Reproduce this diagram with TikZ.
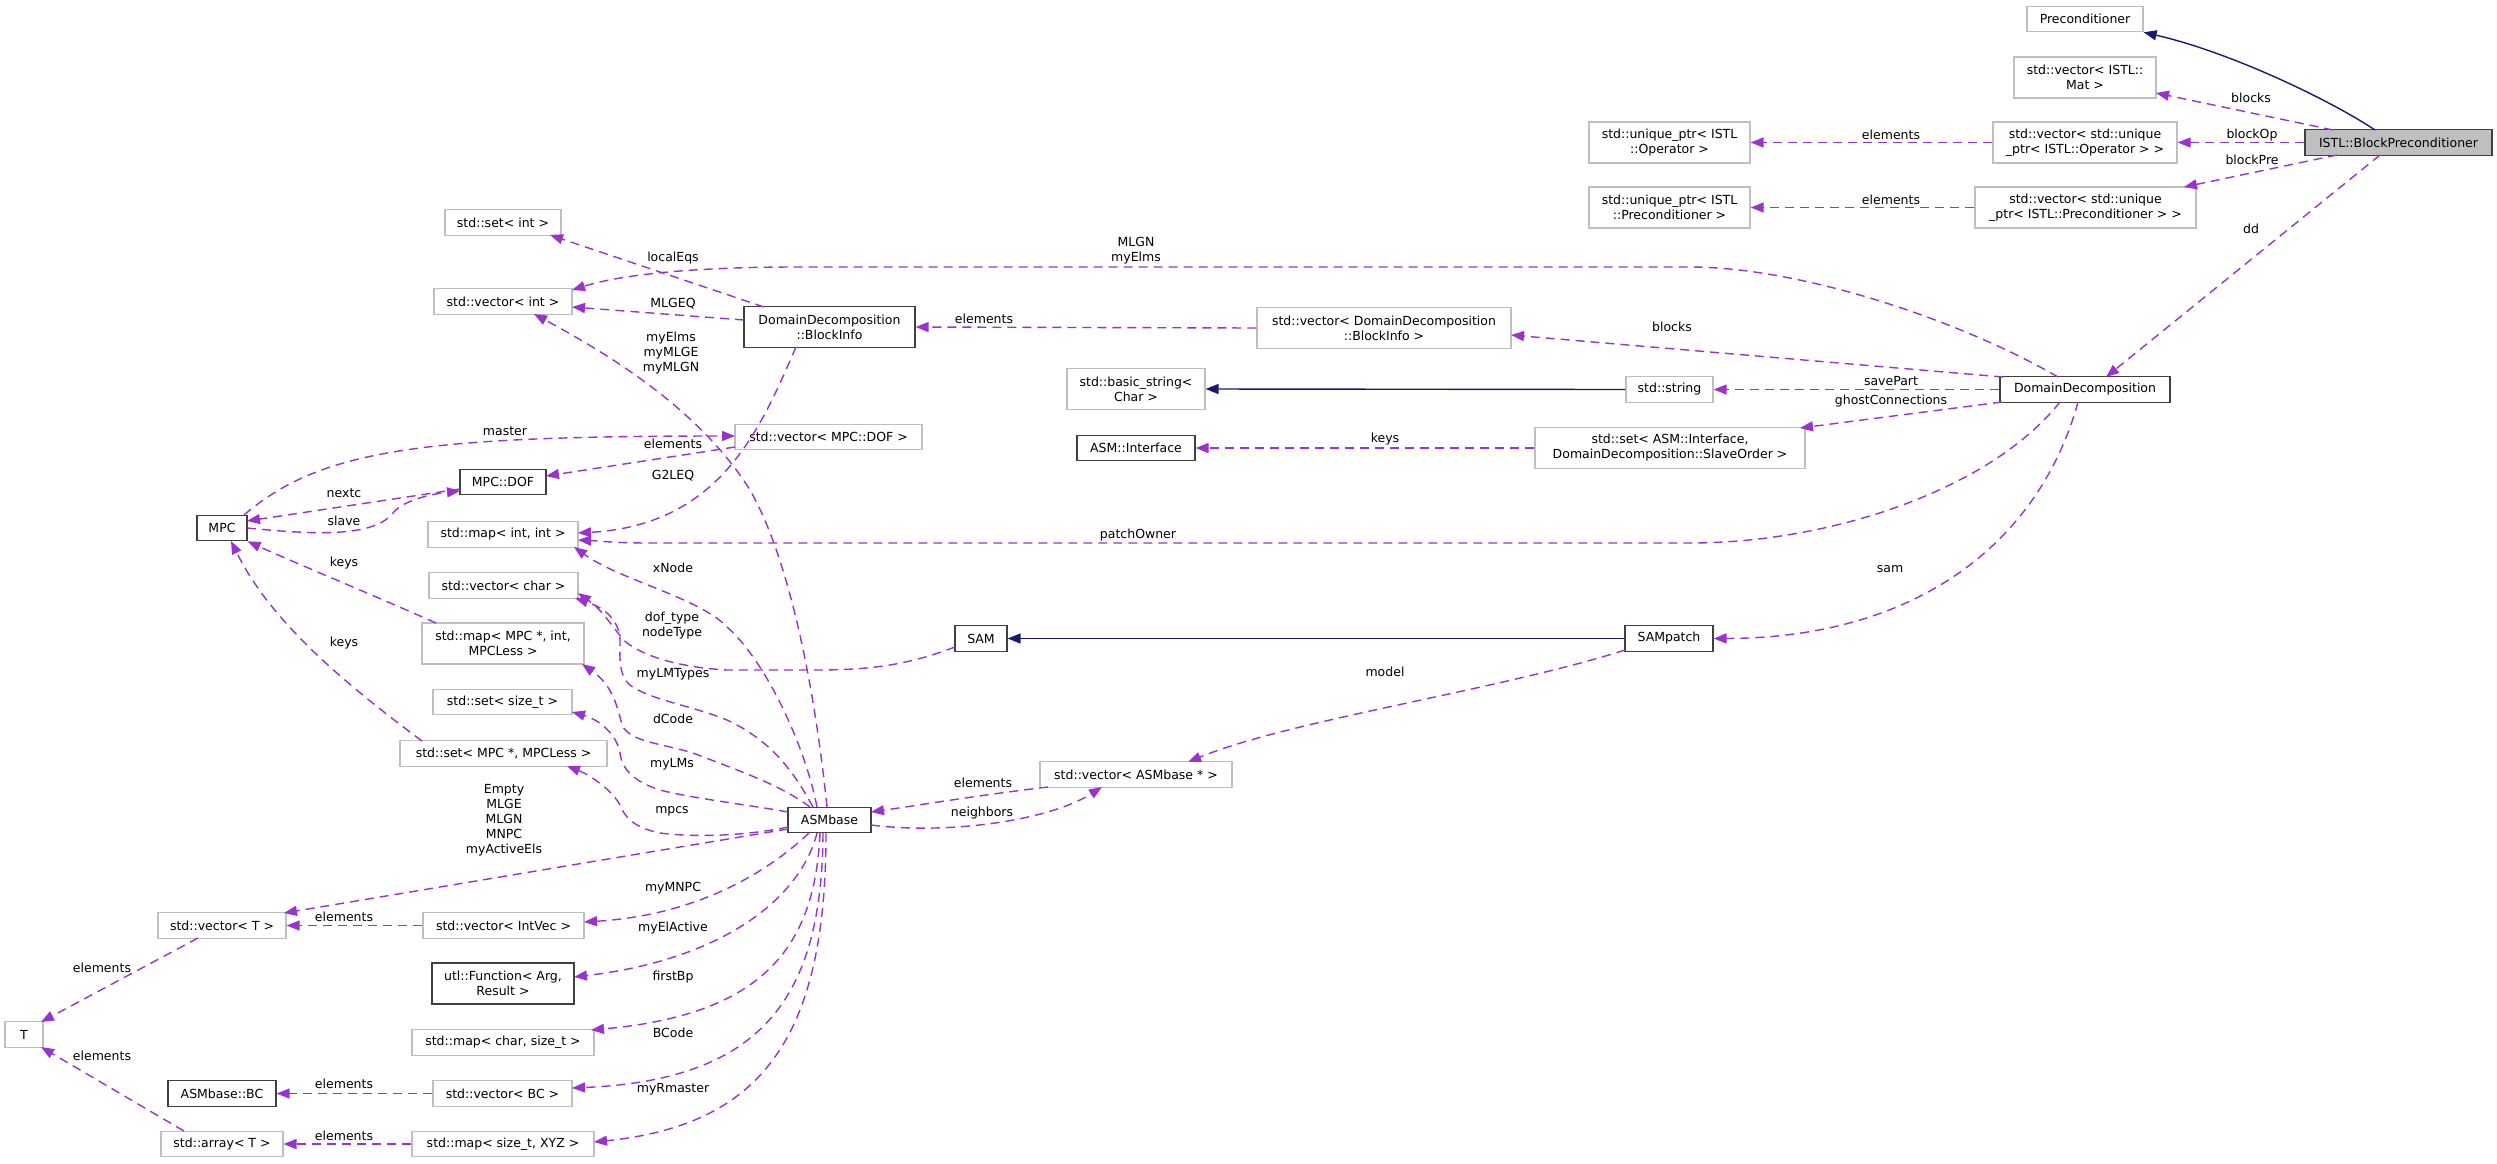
\documentclass[tikz,border=0pt]{standalone}
\usepackage{fontspec}
\setmainfont{DejaVu Sans}
\usetikzlibrary{arrows.meta,calc}
\definecolor{usecol}{HTML}{9A32CD}
\definecolor{inhcol}{HTML}{191970}
\definecolor{boxgrey}{HTML}{BFBFBF}
\definecolor{boxdark}{HTML}{404040}
\definecolor{hilite}{HTML}{BFBFBF}
\tikzset{
  box/.style={draw=boxgrey,line width=1.2pt,fill=white,inner sep=0pt,align=center},
  dbox/.style={box,draw=boxdark},
  hbox/.style={box,draw=boxdark,fill=hilite},
  one/.style={minimum height=25.5pt},
  two/.style={minimum height=41pt},
  uses/.style={draw=usecol,line width=1.4pt,dash pattern=on 9pt off 6pt,-{Triangle[length=13pt,width=10pt,fill=usecol]}},
  inh/.style={draw=inhcol,line width=1.4pt,-{Triangle[length=13pt,width=10pt,fill=inhcol]}},
  lbl/.style={inner sep=0pt,align=center}
}
\begin{document}
\begin{tikzpicture}[x=1pt,y=-1pt,font=\fontsize{12.5}{15}\selectfont]
\useasboundingbox[fill=white] (0,0) rectangle (2497,1163);
% nodes
\node[box,one,minimum width=116pt] (prec) at (2085,19) {Preconditioner};
\node[box,two,minimum width=142pt] (vmat) at (2085,77.5) {std::vector< ISTL::\\Mat >};
\node[hbox,one,minimum width=187pt] (istl) at (2398.5,142.5) {ISTL::BlockPreconditioner};
\node[box,two,minimum width=161pt] (uop) at (1669.5,142.5) {std::unique\_ptr< ISTL\\::Operator >};
\node[box,two,minimum width=184pt] (vuop) at (2085,142.5) {std::vector< std::unique\\\_ptr< ISTL::Operator > >};
\node[box,two,minimum width=161pt] (upre) at (1669.5,207.5) {std::unique\_ptr< ISTL\\::Preconditioner >};
\node[box,two,minimum width=221pt] (vupre) at (2085.5,207.5) {std::vector< std::unique\\\_ptr< ISTL::Preconditioner > >};
\node[box,one,minimum width=116pt] (setint) at (503,222.5) {std::set< int >};
\node[box,one,minimum width=138pt] (vint) at (503,301.5) {std::vector< int >};
\node[dbox,two,minimum width=171pt] (bi) at (829.5,327) {DomainDecomposition\\::BlockInfo};
\node[box,two,minimum width=254pt] (vbi) at (1384,328) {std::vector< DomainDecomposition\\::BlockInfo >};
\node[box,two,minimum width=138pt] (bstr) at (1136,389) {std::basic\_string<\\Char >};
\node[box,one,minimum width=87pt] (str) at (1669.5,389.5) {std::string};
\node[dbox,one,minimum width=170pt] (dd) at (2085,389.5) {DomainDecomposition};
\node[dbox,one,minimum width=118pt] (asmi) at (1136,448) {ASM::Interface};
\node[box,two,minimum width=270pt] (setasmi) at (1670,448) {std::set< ASM::Interface,\\DomainDecomposition::SlaveOrder >};
\node[box,one,minimum width=187pt] (vdof) at (828.5,437) {std::vector< MPC::DOF >};
\node[dbox,one,minimum width=86pt] (dof) at (503,482) {MPC::DOF};
\node[dbox,one,minimum width=50pt] (mpc) at (222,528) {MPC};
\node[box,one,minimum width=150pt] (mapii) at (503,534.5) {std::map< int, int >};
\node[box,one,minimum width=149pt] (vchar) at (503.5,585.5) {std::vector< char >};
\node[box,two,minimum width=162pt] (mapmpc) at (503,643.5) {std::map< MPC *, int,\\MPCLess >};
\node[box,one,minimum width=139pt] (setsz) at (502.5,702) {std::set< size\_t >};
\node[box,one,minimum width=207pt] (setmpc) at (503.5,753.5) {std::set< MPC *, MPCLess >};
\node[dbox,one,minimum width=52pt] (sam) at (981,638.5) {SAM};
\node[dbox,one,minimum width=88pt] (sampatch) at (1669,638.5) {SAMpatch};
\node[box,one,minimum width=192pt] (vasm) at (1136,774.5) {std::vector< ASMbase * >};
\node[dbox,one,minimum width=83pt] (asm) at (829.5,820) {ASMbase};
\node[box,one,minimum width=128pt] (vT) at (222,925.5) {std::vector< T >};
\node[box,one,minimum width=161pt] (vintvec) at (503.5,925.5) {std::vector< IntVec >};
\node[dbox,two,minimum width=142pt] (func) at (503,983.5) {utl::Function< Arg,\\Result >};
\node[box,one,minimum width=38pt] (T) at (24,1034.5) {T};
\node[box,one,minimum width=182pt] (mapcs) at (503,1042.5) {std::map< char, size\_t >};
\node[dbox,one,minimum width=108pt] (bc) at (222,1093.5) {ASMbase::BC};
\node[box,one,minimum width=139pt] (vbc) at (502.5,1093.5) {std::vector< BC >};
\node[box,one,minimum width=122pt] (arrT) at (222,1144) {std::array< T >};
\node[box,one,minimum width=182pt] (mapxyz) at (503,1144) {std::map< size\_t, XYZ >};
% edges
\draw[inh] ($(istl)+(-23.5,-12.5)$) .. controls (2330,100) and (2230,52) .. (prec.south east);
\draw[uses] ($(istl)+(-65.5,-12.5)$) -- ($(vmat)+(71,15.5)$);
\draw[uses] (istl.west) -- (vuop.east);
\draw[uses] ($(istl)+(-61.5,12.5)$) -- ($(vupre)+(98.5,-20.5)$);
\draw[uses] (vuop.west) -- (uop.east);
\draw[uses] (vupre.west) -- (upre.east);
\draw[uses] ($(istl)+(-18.5,12.5)$) -- ($(dd)+(21,-12.5)$);
\draw[uses] ($(dd)+(-27,-12.5)$) .. controls (1960,320) and (1800,267) .. (1690,267) -- (796,267) .. controls (690,267) and (620,275) .. ($(vint)+(69,-11.5)$);
\draw[uses] ($(bi)+(-65.5,-20)$) -- ($(setint)+(47,12.5)$);
\draw[uses] ($(bi)+(-85.5,-7)$) -- ($(vint)+(69,5.5)$);
\draw[uses] (vbi.west) -- (bi.east);
\draw[uses] ($(asm)+(-2.5,-13)$) .. controls (815,690) and (790,560) .. (750,490) .. controls (700,410) and (610,355) .. ($(vint)+(31,12.5)$);
\draw[uses] ($(bi)+(-33.5,20)$) .. controls (760,430) and (720,525) .. ($(mapii)+(75,-1.5)$);
\draw[uses] ($(vdof)+(-93.5,10)$) -- ($(dof)+(43,-6)$);
\draw[uses] ($(mpc)+(22,-13)$) .. controls (320,450) and (420,436) .. ($(vdof)+(-93.5,-1)$);
\draw[uses] ($(dof)+(-43,7)$) -- ($(mpc)+(25,-7)$);
\draw[uses] ($(mpc)+(25,0)$) .. controls (300,533) and (372,540) .. (393,513) .. controls (405,498) and (440,493) .. ($(dof)+(-43,9)$);
\draw[uses] ($(mapmpc)+(-67,-20.5)$) .. controls (380,598) and (300,565) .. (mpc.south east);
\draw[uses] ($(setmpc)+(-81.5,-12.5)$) .. controls (340,680) and (270,620) .. ($(mpc)+(9,13)$);
\draw[uses] ($(dd)+(-25,12.5)$) .. controls (1990,490) and (1830,543) .. (1690,543) -- (650,543) .. controls (615,543) and (600,541) .. ($(mapii)+(75,5.5)$);
\draw[uses] ($(asm)+(-12.5,-13)$) .. controls (805,745) and (765,660) .. (727,627) .. controls (700,598) and (620,580) .. ($(mapii)+(71,12.5)$);
\draw[uses] ($(sam)+(-26,8.5)$) .. controls (900,668) and (860,670) .. (810,670) -- (727,670) .. controls (690,668) and (650,660) .. (627,643) .. controls (615,632) and (605,612) .. ($(vchar)+(74.5,7.5)$);
\draw[uses] ($(asm)+(-16.5,-13)$) .. controls (793,770) and (770,740) .. (727,720) .. controls (690,705) and (650,700) .. (630,685) .. controls (618,675) and (620,655) .. (620,640) .. controls (619,620) and (605,608) .. ($(vchar)+(71.5,12.5)$);
\draw[uses] ($(asm)+(-19.5,-13)$) .. controls (780,785) and (745,773) .. (693,753) .. controls (660,743) and (630,742) .. (622,725) .. controls (617,705) and (612,685) .. ($(mapmpc)+(79,20.5)$);
\draw[uses] ($(asm)+(-41.5,-8)$) .. controls (750,805) and (690,798) .. (660,790) .. controls (635,782) and (622,770) .. (620,753) .. controls (617,735) and (600,720) .. ($(setsz)+(69.5,10)$);
\draw[uses] ($(asm)+(-41.5,7)$) .. controls (750,835) and (700,838) .. (660,833) .. controls (635,828) and (625,818) .. (620,805) .. controls (612,790) and (590,775) .. ($(setmpc)+(63.5,12.5)$);
\draw[uses] ($(asm)+(-41.5,9)$) -- ($(vT)+(62,-12.5)$);
\draw[uses] ($(asm)+(-20.5,13)$) .. controls (770,870) and (700,915) .. ($(vintvec)+(80.5,-3.5)$);
\draw[uses] ($(asm)+(-12.5,13)$) .. controls (800,900) and (720,960) .. ($(func)+(71,-6.5)$);
\draw[uses] ($(asm)+(-9.5,13)$) .. controls (815,950) and (760,1015) .. ($(mapcs)+(88,-12.5)$);
\draw[uses] ($(asm)+(-6.5,13)$) .. controls (822,1000) and (760,1080) .. ($(vbc)+(69.5,-5.5)$);
\draw[uses] ($(asm)+(-3.5,13)$) .. controls (826,1040) and (760,1125) .. ($(mapxyz)+(91,-2)$);
\draw[uses] (vintvec.west) -- (vT.east);
\draw[uses] ($(vT)+(-24,12.5)$) -- ($(T)+(17,-12.5)$);
\draw[uses] (vbc.west) -- (bc.east);
\draw[uses] (mapxyz.west) -- (arrT.east);
\draw[uses] ($(arrT)+(-38,-13)$) -- ($(T)+(17,12.5)$);
\draw[uses] ($(vasm)+(-88,12.5)$) .. controls (980,795) and (920,805) .. ($(asm)+(41.5,-8)$);
\draw[uses] ($(asm)+(41.5,5)$) .. controls (950,835) and (1050,820) .. ($(vasm)+(-34,12.5)$);
\draw[uses] ($(sampatch)+(-44,11.5)$) .. controls (1500,690) and (1290,720) .. ($(vasm)+(52,-12.5)$);
\draw[uses] ($(dd)+(-7,12.5)$) .. controls (2040,540) and (1920,638) .. (sampatch.east);
\draw[inh] (sampatch.west) -- (sam.east);
\draw[inh] (str.west) -- (bstr.east);
\draw[uses] (setasmi.west) -- (asmi.east);
\draw[uses] ($(dd)+(-82,-12.5)$) -- ($(vbi)+(127,7)$);
\draw[uses] (dd.west) -- (str.east);
\draw[uses] ($(dd)+(-83,12.5)$) -- ($(setasmi)+(130,-20)$);
% labels
\node[lbl] (l1) at (2251,98) {blocks};
\node[lbl] (l2) at (2252,135) {blockOp};
\node[lbl] (l3) at (2252,160) {blockPre};
\node[lbl] (l4) at (1891,135) {elements};
\node[lbl] (l5) at (1891,200) {elements};
\node[lbl] (l6) at (2251,229) {dd};
\node[lbl] (l7) at (673,258) {localEqs};
\node[lbl] (l8) at (1136,251) {MLGN\\myElms};
\node[lbl] (l9) at (673,304) {MLGEQ};
\node[lbl] (l10) at (984,319) {elements};
\node[lbl] (l11) at (671,353) {myElms\\myMLGE\\myMLGN};
\node[lbl] (l12) at (1672,327) {blocks};
\node[lbl] (l13) at (1891,381) {savePart};
\node[lbl] (l14) at (1891,401) {ghostConnections};
\node[lbl] (l15) at (1385,439) {keys};
\node[lbl] (l16) at (505,431) {master};
\node[lbl] (l17) at (673,444) {elements};
\node[lbl] (l18) at (673,476) {G2LEQ};
\node[lbl] (l19) at (344,493) {nextc};
\node[lbl] (l20) at (344,521) {slave};
\node[lbl] (l21) at (344,563) {keys};
\node[lbl] (l22) at (1138,535) {patchOwner};
\node[lbl] (l23) at (673,568) {xNode};
\node[lbl] (l24) at (672,626) {dof\_type\\nodeType};
\node[lbl] (l25) at (1890,569) {sam};
\node[lbl] (l26) at (673,674) {myLMTypes};
\node[lbl] (l27) at (1385,672) {model};
\node[lbl] (l28) at (344,643) {keys};
\node[lbl] (l29) at (673,719) {dCode};
\node[lbl] (l30) at (672,764) {myLMs};
\node[lbl] (l31) at (983,783) {elements};
\node[lbl] (l32) at (982,813) {neighbors};
\node[lbl] (l33) at (672,811) {mpcs};
\node[lbl] (l34) at (504,820) {Empty\\MLGE\\MLGN\\MNPC\\myActiveEls};
\node[lbl] (l35) at (673,888) {myMNPC};
\node[lbl] (l36) at (344,917) {elements};
\node[lbl] (l37) at (673,928) {myElActive};
\node[lbl] (l38) at (102,968) {elements};
\node[lbl] (l39) at (673,977) {firstBp};
\node[lbl] (l40) at (673,1033) {BCode};
\node[lbl] (l41) at (102,1056) {elements};
\node[lbl] (l42) at (344,1084) {elements};
\node[lbl] (l43) at (673,1089) {myRmaster};
\node[lbl] (l44) at (344,1136) {elements};
\end{tikzpicture}
\end{document}
